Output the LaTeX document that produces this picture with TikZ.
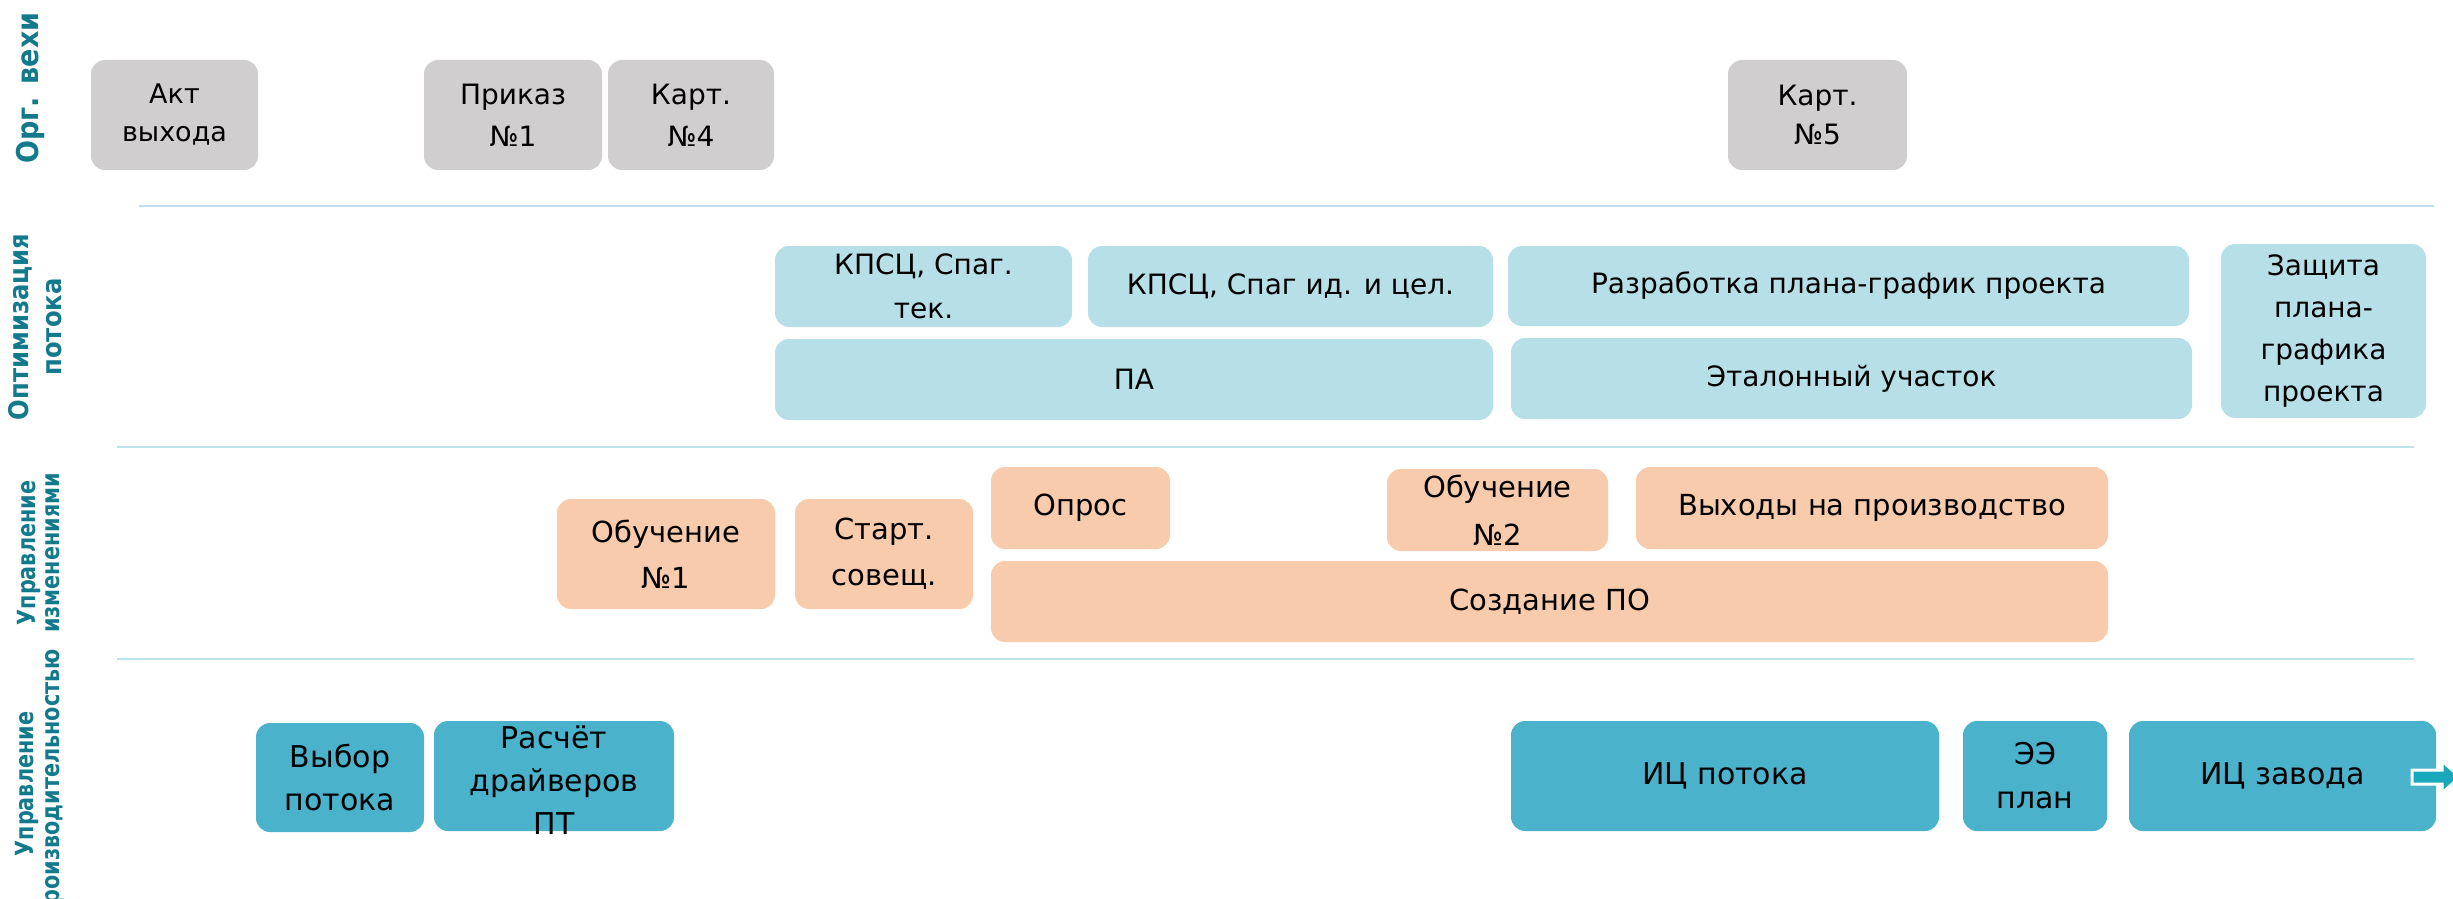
\documentclass[tikz,border=0pt]{standalone}
\usepackage{fontspec}
\setmainfont{DejaVu Sans}
\usepackage{graphicx}
\definecolor{cgrey}{RGB}{208,206,207}
\definecolor{cblue}{RGB}{183,223,231}
\definecolor{corange}{RGB}{248,203,172}
\definecolor{cteal}{RGB}{74,178,203}
\definecolor{csep}{RGB}{190,225,235}
\definecolor{clbl}{RGB}{18,122,140}
\definecolor{carrow}{RGB}{24,168,187}
\newcommand{\sxa}[1]{\scalebox{0.9}[1]{#1}}
\newcommand{\sxb}[1]{\scalebox{0.83}[1]{#1}}
\begin{document}
\begin{tikzpicture}[x=0.5pt,y=-0.5pt,
  box/.style={rounded corners=7pt, inner sep=0pt, outer sep=0pt, draw=none},
  wh/.style 2 args={minimum width={#1*0.5pt}, minimum height={#2*0.5pt}},
  txt/.style={font=\fontsize{14}{21}\selectfont, align=center, inner sep=0pt, text=black},
  gbox/.style={box, fill=cgrey},
  bbox/.style={box, fill=cblue},
  obox/.style={box, fill=corange},
  tbox/.style={box, fill=cteal},
  sep/.style={draw=csep, line width=1pt},
  lane/.style={rotate=90, text=clbl, align=center, inner sep=0pt}
]
\useasboundingbox (0,0) rectangle (2453,899);

% lane labels
\node[lane, font=\bfseries\fontsize{15}{15}\selectfont] (l1) at (30,88) {\sxa{Орг. вехи}};
\node[lane, font=\bfseries\fontsize{13.5}{16.5}\selectfont] (l2) at (35,327) {\sxa{Оптимизация}\\\sxa{потока}};
\node[lane, font=\bfseries\fontsize{12.5}{12}\selectfont] (l3) at (39,553) {\sxb{Управление}\\\sxb{изменениями}};
\node[lane, font=\bfseries\fontsize{12.5}{13}\selectfont] (l4) at (40,784) {\sxb{Управление}\\\sxb{производительностью}};

% separators
\coordinate (s1a) at (139,206); \coordinate (s1b) at (2434,206);
\coordinate (s2a) at (117,447); \coordinate (s2b) at (2414,447);
\coordinate (s3a) at (117,659); \coordinate (s3b) at (2414,659);
\draw[sep] (s1a) -- (s1b);
\draw[sep] (s2a) -- (s2b);
\draw[sep] (s3a) -- (s3b);

% row 1: grey
\node[gbox, wh={167}{110}, label={[txt, font=\fontsize{13.5}{19}\selectfont]center:{Акт\\выхода}}] (akt) at (174.5,115) {};
\node[gbox, wh={178}{110}, label={[txt]center:{Приказ\\№1}}] (prikaz) at (513,115) {};
\node[gbox, wh={166}{110}, label={[txt]center:{Карт.\\№4}}] (kart4) at (691,115) {};
\node[gbox, wh={179}{110}, label={[txt, font=\fontsize{14}{19.5}\selectfont]center:{Карт.\\№5}}] (kart5) at (1817.5,115) {};

% row 2: light blue
\node[bbox, wh={297}{81}, label={[txt, font=\fontsize{14}{22}\selectfont]center:{КПСЦ, Спаг.\\тек.}}] (kpsc1) at (923.5,286.5) {};
\node[bbox, wh={405}{81}, label={[txt]center:{КПСЦ, Спаг ид. и цел.}}] (kpsc2) at (1290.5,286.5) {};
\node[bbox, wh={718}{81}, label={[txt]center:{ПА}}] (pa) at (1134,379.5) {};
\node[bbox, wh={681}{80}, label={[txt]center:{Разработка плана-график проекта}}] (razr) at (1848.5,286) {};
\node[bbox, wh={681}{81}, label={[txt]center:{Эталонный участок}}] (etal) at (1851.5,378.5) {};
\node[bbox, wh={205}{174}, label={[txt]center:{Защита\\плана-\\графика\\проекта}}] (zashch) at (2323.5,331) {};

% row 3: orange
\node[obox, wh={218}{110}, label={[txt, font=\fontsize{14.5}{23}\selectfont]center:{Обучение\\№1}}] (obuch1) at (666,554) {};
\node[obox, wh={178}{110}, label={[txt, font=\fontsize{14.5}{23}\selectfont]center:{Старт.\\совещ.}}] (start) at (884,554) {};
\node[obox, wh={179}{82}, label={[txt, font=\fontsize{14.5}{21}\selectfont]center:{Опрос}}] (opros) at (1080.5,508) {};
\node[obox, wh={221}{82}, label={[txt, font=\fontsize{14.5}{24}\selectfont]center:{Обучение\\№2}}] (obuch2) at (1497.5,510) {};
\node[obox, wh={472}{82}, label={[txt, font=\fontsize{14.5}{21}\selectfont]center:{Выходы на производство}}] (vyhody) at (1872,508) {};
\node[obox, wh={1117}{81}, label={[txt, font=\fontsize{14.5}{21}\selectfont]center:{Создание ПО}}] (sozd) at (1549.5,601.5) {};

% row 4: teal
\node[tbox, wh={168}{109}, label={[txt, font=\fontsize{15}{21.5}\selectfont]center:{Выбор\\потока}}] (vybor) at (340,777.5) {};
\node[tbox, wh={240}{110}, label={[txt, font=\fontsize{15}{21.5}\selectfont, yshift=-2pt]center:{Расчёт\\драйверов\\ПТ}}] (raschet) at (554,776) {};
\node[tbox, wh={428}{110}, label={[txt, font=\fontsize{15}{21}\selectfont]center:{ИЦ потока}}] (icpot) at (1725,776) {};
\node[tbox, wh={144}{110}, label={[txt, font=\fontsize{15}{22}\selectfont]center:{ЭЭ\\план}}] (ee) at (2035,776) {};
\node[tbox, wh={307}{110}, label={[txt, font=\fontsize{15}{21}\selectfont]center:{ИЦ завода}}] (iczav) at (2282.5,776) {};

% block arrow leaving ИЦ завода
\coordinate (ar) at (2412,777);
\fill[carrow, draw=white, line width=1.5pt]
  (ar) ++(0,-7) -- ++(30,0) -- ++(0,-9) -- ++(18,16) -- ++(-18,16) -- ++(0,-9) -- ++(-30,0) -- cycle;
\end{tikzpicture}
\end{document}
